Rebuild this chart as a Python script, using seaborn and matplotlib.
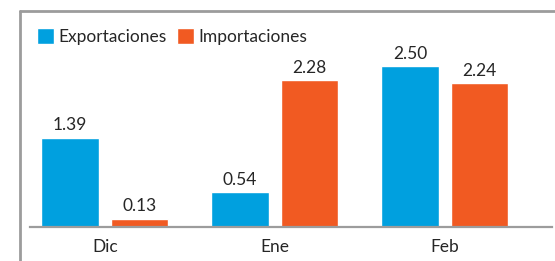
import matplotlib
matplotlib.use('Agg')
import matplotlib.pyplot as plt
from matplotlib.lines import Line2D
import seaborn as sns
import pandas as pd

# datos
meses = ['Dic', 'Ene', 'Feb']
exportaciones = [1.39, 0.54, 2.50]
importaciones = [0.13, 2.28, 2.24]
series = ['Exportaciones', 'Importaciones']
colores = ['#00A0DF', '#F15A22']

TXT = '#262626'
GRIS = '#9c9c9c'

df = pd.DataFrame({
    'mes': meses * 2,
    'tipo': [series[0]] * 3 + [series[1]] * 3,
    'valor': exportaciones + importaciones,
})

sns.set_theme(style='white')
plt.rcParams['font.family'] = ['Lato', 'DejaVu Sans']

fig = plt.figure(figsize=(5.55, 2.61), dpi=100)
ax = fig.add_axes([30 / 555, 34 / 261, 522 / 555, 207 / 261])

sns.barplot(data=df, x='mes', y='valor', hue='tipo', palette=colores,
            width=0.82, gap=0.18, saturation=1, ax=ax, legend=True)

for c in ax.containers:
    ax.bar_label(c, fmt='%.2f', padding=3, fontsize=12.5, color=TXT)

ax.set_xlim(-0.44, 2.63)
ax.set_ylim(0, 3.22)
ax.set_xlabel('')
ax.set_ylabel('')
ax.set_yticks([])
ax.tick_params(axis='x', length=0, pad=9, labelsize=12.5, labelcolor=TXT)
for s in ['top', 'right', 'left']:
    ax.spines[s].set_visible(False)
ax.spines['bottom'].set_color(GRIS)
ax.spines['bottom'].set_linewidth(1.6)

ax.legend(loc='upper left', bbox_to_anchor=(37 / 555, 1 - 28 / 261),
          bbox_transform=fig.transFigure, ncol=2, frameon=False,
          handlelength=1.0, handleheight=1.0, handletextpad=0.25,
          columnspacing=0.55, borderpad=0, borderaxespad=0,
          fontsize=12.5, labelcolor=TXT)

# marco del recuadro
fig.add_artist(Line2D([20 / 555, 20 / 555], [0, 1 - 11 / 261], color=GRIS, lw=2))
fig.add_artist(Line2D([20 / 555, 1], [1 - 11 / 261, 1 - 11 / 261], color=GRIS, lw=2))

fig.savefig('out.png', dpi=100)
